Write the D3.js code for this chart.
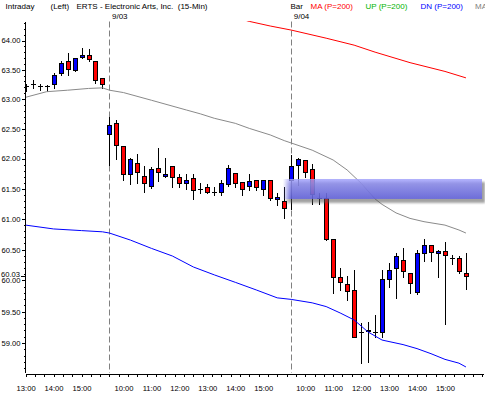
<!DOCTYPE html>
<html><head><meta charset="utf-8">
<script src="https://cdn.jsdelivr.net/npm/d3@7"></script>
<style>
html,body{margin:0;padding:0;background:#fff;}
svg{display:block;font-family:Arial,"Liberation Sans",sans-serif;}
</style></head><body>
<svg id="c" width="485" height="393"></svg>
<script>
// ---- data (15-min bars, ERTS) ----
const opens  = [63.22,63.25,63.22,63.22,63.25,63.44,63.65,63.49,63.71,63.75,63.65,63.35,
  62.41,62.59,62.21,61.74,61.92,61.71,61.55,61.85,61.71,61.88,61.69,61.60,61.67,61.50,61.53,61.44,61.45,61.57,61.76,61.61,61.55,61.65,61.50,61.64,61.33,61.29,
  61.65,61.89,61.98,61.83,61.34,61.34,60.68,60.06,59.94,59.84,59.17,59.19,59.18,59.18,60.03,60.20,60.33,60.12,59.82,60.45,60.58,60.45,60.48,60.36,60.36,60.12];
const highs  = [63.25,63.32,63.25,63.24,63.44,63.64,63.79,63.70,63.87,63.85,63.65,63.35,
  62.70,62.65,62.21,62.01,62.08,61.88,61.86,62.17,62.01,61.88,61.75,61.74,61.75,61.59,61.57,61.53,61.64,61.90,61.76,61.61,61.75,61.65,61.64,61.64,61.42,61.53,
  62.06,62.01,61.98,61.91,61.42,61.42,60.68,60.20,60.07,60.17,59.32,59.33,59.45,60.17,60.28,60.45,60.52,60.12,60.50,60.67,60.58,60.50,60.63,60.41,60.40,60.45];
const lows   = [63.13,63.18,63.15,63.13,63.18,63.41,63.41,63.48,63.70,63.65,63.28,63.19,
  61.90,61.99,61.64,61.57,61.60,61.44,61.51,61.62,61.70,61.53,61.53,61.49,61.33,61.42,61.42,61.39,61.40,61.54,61.53,61.39,61.48,61.48,61.40,61.31,61.23,61.02,
  61.16,61.56,61.70,61.24,61.24,60.66,59.79,59.85,59.69,59.10,58.68,58.70,59.10,59.10,59.89,59.72,60.05,59.80,59.78,60.31,60.32,60.05,59.30,60.27,60.12,59.86];
const closes = [63.22,63.25,63.22,63.22,63.41,63.62,63.51,63.70,63.75,63.68,63.33,63.26,
  62.57,62.22,61.74,61.99,61.78,61.59,61.82,61.77,61.75,61.69,61.60,61.64,61.48,61.50,61.45,61.44,61.60,61.85,61.60,61.50,61.63,61.53,61.64,61.35,61.36,61.18,
  61.88,61.99,61.78,61.41,61.34,60.67,60.06,59.97,59.83,59.10,59.17,59.21,59.18,60.03,60.17,60.40,60.15,59.96,60.45,60.58,60.46,60.48,60.41,60.36,60.16,60.07];

const sessionStarts = [12, 38];
const sessionDates  = ["9/03", "9/04"];
const xTickIdx  = [0,4,8,14,18,22,26,30,34,40,44,48,52,56,60];
const xTickText = ["13:00","14:00","15:00","10:00","11:00","12:00","13:00","14:00","15:00","10:00","11:00","12:00","13:00","14:00","15:00"];
const yTickVals = [59,59.5,60,60.5,61,61.5,62,62.5,63,63.5,64];

// MA (red)
const maIdx  = [30,32,35,38,43,47,50,55,60,63];
const maVals = [64.40,64.33,64.25,64.18,64.04,63.92,63.80,63.62,63.47,63.36];
// gray average
const avgIdx  = [0,3,6,9,11,12,14,18,23,25,27,30,32,35,37,41,44,46,48,50,51,53,55,57,60,62,63];
const avgVals = [63.03,63.125,63.15,63.18,63.19,63.15,63.11,62.98,62.815,62.75,62.675,62.59,62.505,62.395,62.30,62.14,61.976,61.81,61.59,61.33,61.24,61.10,61.01,60.956,60.90,60.82,60.77];
// DN band (blue)
const dnIdx  = [0,4,8,11,12,15,18,21,24,27,30,33,36,38,41,43,45,47,49,51,54,56,58,60,62,63];
const dnVals = [60.90,60.837,60.81,60.79,60.77,60.655,60.52,60.396,60.218,60.09,59.97,59.847,59.72,59.695,59.64,59.58,59.478,59.366,59.174,59.046,58.974,58.91,58.83,58.74,58.68,58.62];

const lastPrice = 60.03;
const zoneLow = 61.33, zoneHigh = 61.66, zoneFrom = 36.8, zoneTo = 65.3;

// ---- scales ----
const svg = d3.select("#c");
const x = d3.scaleLinear().domain([-0.086, 65.44]).range([25, 483]);
const y = d3.scaleLog().domain([58.525, 64.328]).range([373, 21.5]);

const defs = svg.append("defs");
defs.append("clipPath").attr("id","plot").append("rect")
  .attr("x",25).attr("y",21).attr("width",460).attr("height",352);
const g1 = defs.append("linearGradient").attr("id","bandGrad").attr("x1",0).attr("y1",0).attr("x2",0).attr("y2",1);
g1.append("stop").attr("offset",0).attr("stop-color","#a0a0fa");
g1.append("stop").attr("offset",0.5).attr("stop-color","#8080f0");
g1.append("stop").attr("offset",1).attr("stop-color","#6262e4");
const bx0 = x(zoneFrom), bx1 = x(zoneTo);
const mg = defs.append("linearGradient").attr("id","fadeGrad").attr("gradientUnits","userSpaceOnUse")
  .attr("x1",bx0).attr("x2",bx0+8).attr("y1",0).attr("y2",0);
mg.append("stop").attr("offset",0).attr("stop-color","#fff").attr("stop-opacity",0);
mg.append("stop").attr("offset",1).attr("stop-color","#fff").attr("stop-opacity",1);
defs.append("mask").attr("id","fade").attr("maskUnits","userSpaceOnUse")
  .attr("x",0).attr("y",0).attr("width",485).attr("height",393)
  .append("rect").attr("x",0).attr("y",0).attr("width",485).attr("height",393).attr("fill","url(#fadeGrad)");
defs.append("filter").attr("id","blur").attr("x","-10%").attr("y","-50%").attr("width","120%").attr("height","200%")
  .append("feGaussianBlur").attr("stdDeviation",1.3);

const plot = svg.append("g").attr("clip-path","url(#plot)");

// session separators
plot.selectAll("line.sep").data(sessionStarts).join("line")
  .attr("x1",d=>Math.round(x(d))+0.5).attr("x2",d=>Math.round(x(d))+0.5)
  .attr("y1",21.5).attr("y2",373)
  .attr("stroke","#808080").attr("stroke-dasharray","6,3");

// candles
const bars = d3.range(opens.length).map(i=>({i,o:opens[i],h:highs[i],l:lows[i],c:closes[i]}));
const cg = plot.append("g").attr("shape-rendering","crispEdges");
bars.forEach(b=>{
  const cx = Math.round(x(b.i));
  cg.append("line").attr("x1",cx+0.5).attr("x2",cx+0.5)
    .attr("y1",Math.round(y(b.h))).attr("y2",Math.round(y(b.l))+1)
    .attr("stroke","#000").attr("stroke-width",1);
  if (b.o === b.c) {
    const yy = Math.round(y(b.c))+0.5;
    cg.append("line").attr("x1",cx-2).attr("x2",cx+3).attr("y1",yy).attr("y2",yy).attr("stroke","#000");
  } else {
    const top = Math.round(y(Math.max(b.o,b.c))), bot = Math.round(y(Math.min(b.o,b.c)));
    cg.append("rect").attr("x",cx-1.5).attr("width",4)
      .attr("y",top+0.5).attr("height",Math.max(bot-top,1))
      .attr("fill", b.c > b.o ? "#0000ff" : "#ff0000")
      .attr("stroke","#000").attr("stroke-width",1);
  }
});

// lines
const line = d3.line().x(d=>x(d[0])).y(d=>y(d[1]));
plot.append("path").datum(avgIdx.map((d,k)=>[d,avgVals[k]]))
  .attr("d",line).attr("fill","none").attr("stroke","#8a8a8a").attr("stroke-width",1);
plot.append("path").datum(dnIdx.map((d,k)=>[d,dnVals[k]]))
  .attr("d",line).attr("fill","none").attr("stroke","#0000ff").attr("stroke-width",1);
plot.append("path").datum(maIdx.map((d,k)=>[d,maVals[k]]))
  .attr("d",line).attr("fill","none").attr("stroke","#ff0000").attr("stroke-width",1);

// highlight zone
const zy0 = y(zoneHigh), zy1 = y(zoneLow);
const zg = svg.append("g").attr("mask","url(#fade)");
zg.append("rect").attr("x",bx0+2).attr("y",zy0+3).attr("width",bx1-bx0+1).attr("height",zy1-zy0+1)
  .attr("fill","#555").attr("opacity",0.55).attr("filter","url(#blur)");
zg.append("rect").attr("x",bx0).attr("y",zy0).attr("width",bx1-bx0).attr("height",zy1-zy0)
  .attr("fill","url(#bandGrad)").attr("opacity",0.82);

// axes
const fmt = d3.format(".2f");
const yMinor = d3.range(586, 644).map(v=>v/10);
const yAxMinor = svg.append("g").attr("transform","translate(25.5,0)")
  .call(d3.axisLeft(y).tickValues(yMinor).tickSize(2).tickSizeOuter(0).tickFormat(""));
const yAx = svg.append("g").attr("transform","translate(25.5,0)")
  .call(d3.axisLeft(y).tickValues(yTickVals).tickSize(4).tickPadding(1).tickSizeOuter(0).tickFormat(fmt));
yAxMinor.select(".domain").remove();
yAx.select(".domain").attr("d","M0,21.5V373");

const xAx = svg.append("g").attr("transform","translate(0,373.5)")
  .call(d3.axisBottom(x).tickValues(d3.range(0,50).map(k=>k*4/3)).tickSize(3).tickSizeOuter(0).tickFormat(""));
const xLab = svg.append("g").attr("transform","translate(0,373.5)")
  .call(d3.axisBottom(x).tickValues(xTickIdx).tickSize(0).tickPadding(12.5).tickFormat((d,k)=>xTickText[k]));
xLab.select(".domain").remove();

[yAx,yAxMinor,xAx,xLab].forEach(a=>{
  a.attr("font-family",null).attr("font-size",null);
  a.selectAll("line,path").attr("stroke","#000").attr("shape-rendering","crispEdges");
  a.selectAll("text").attr("font-size","7.6px").attr("fill","#000");
});

// last price tag
const ly = y(lastPrice);
svg.append("rect").attr("x",2).attr("y",ly-9).attr("width",19).attr("height",7.5).attr("fill","#fff");
svg.append("text").attr("x",20).attr("y",ly-2).attr("text-anchor","end")
  .attr("font-size","7.6px").attr("fill","#000").text(fmt(lastPrice));
svg.append("line").attr("x1",21).attr("x2",25).attr("y1",Math.round(ly-3)+0.5).attr("y2",Math.round(ly-3)+0.5)
  .attr("stroke","#000").attr("shape-rendering","crispEdges");

// header
const hdr = [
  {t:"Intraday",x:5.5,c:"#000"},
  {t:"(Left)",x:50.5,c:"#000"},
  {t:"ERTS - Electronic Arts, Inc.  (15-Min)",x:76.5,c:"#000"},
  {t:"Bar",x:290.5,c:"#000"},
  {t:"MA (P=200)",x:310.5,c:"#ff0000"},
  {t:"UP (P=200)",x:365.5,c:"#00b400"},
  {t:"DN (P=200)",x:420.5,c:"#0000ff"},
  {t:"MA (P=200)",x:475,c:"#808080"}
];
svg.selectAll("text.hdr").data(hdr).join("text").attr("class","hdr")
  .attr("x",d=>d.x).attr("y",8.5).attr("font-size","8px").attr("fill",d=>d.c)
  .style("white-space","pre").attr("xml:space","preserve").text(d=>d.t);
svg.selectAll("text.date").data(sessionStarts).join("text").attr("class","date")
  .attr("x",d=>x(d)+2.5).attr("y",18.5).attr("font-size","8px").attr("fill","#000")
  .text((d,k)=>sessionDates[k]);
</script>
</body></html>
